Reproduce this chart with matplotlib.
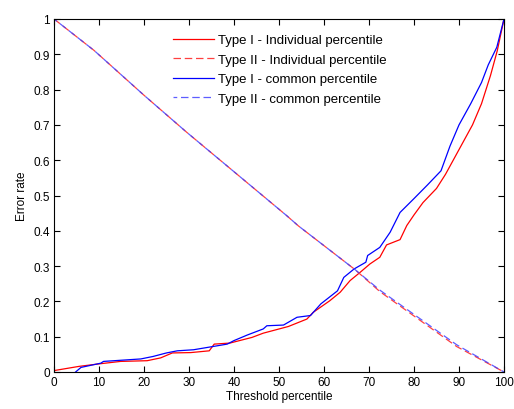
import matplotlib
matplotlib.use("Agg")
import matplotlib.pyplot as plt

plt.rcParams['font.family'] = ['Liberation Sans', 'DejaVu Sans']

# Type I - Individual percentile (red, solid)
t1_ind_x = [0, 5.6, 10, 14.8, 20.7, 23.7, 26.3, 30.4, 34.5, 35.6, 39.1, 44, 46.5, 52.1, 56.2,
            57.6, 61.3, 63.6, 65.8, 68, 70.2, 72.4, 73.9, 76.9, 78.4, 80, 82, 85,
            87, 90, 93, 95, 97, 98.5, 100]
t1_ind_y = [0.004, 0.016, 0.023, 0.030, 0.032, 0.040, 0.054, 0.055, 0.060, 0.079, 0.082, 0.098,
            0.110, 0.129, 0.150, 0.169, 0.202, 0.226, 0.259, 0.282, 0.306, 0.325, 0.360,
            0.375, 0.415, 0.445, 0.480, 0.520, 0.560, 0.630, 0.700, 0.760, 0.840, 0.910, 1.0]

# Type I - common percentile (blue, solid)
t1_com_x = [4.8, 6, 10.4, 11, 19.3, 22, 25, 27.4, 31, 38.5, 40, 43, 46.5, 47.3, 51, 54,
            57, 59.3, 63, 64.4, 66.7, 69.3, 69.7, 72.4, 74.7, 76.9, 79.9, 83, 86,
            88, 90, 92.6, 95, 96.5, 98.4, 100]
t1_com_y = [0.0, 0.013, 0.025, 0.030, 0.037, 0.044, 0.054, 0.060, 0.063, 0.079, 0.089,
            0.105, 0.122, 0.131, 0.133, 0.155, 0.160, 0.193, 0.230, 0.268, 0.292, 0.311,
            0.330, 0.353, 0.396, 0.452, 0.490, 0.530, 0.570, 0.640, 0.700, 0.760, 0.820,
            0.870, 0.920, 1.0]

# Type II - Individual percentile (red, dashed)
t2_ind_x = [0, 8.9, 20, 29.5, 40.6, 51.7, 54.3, 66.9, 72.4, 89.5, 100]
t2_ind_y = [1.0, 0.911, 0.784, 0.679, 0.561, 0.443, 0.414, 0.290, 0.228, 0.072, 0.0]

# Type II - common percentile (blue, dashed)
t2_com_x = [0, 8.9, 20, 29.5, 40.6, 51.7, 54.3, 66.9, 72.4, 89.5, 100]
t2_com_y = [1.0, 0.911, 0.784, 0.679, 0.561, 0.443, 0.414, 0.290, 0.232, 0.077, 0.0]

x_ticks = [0, 10, 20, 30, 40, 50, 60, 70, 80, 90, 100]
y_ticks = [0, 0.1, 0.2, 0.3, 0.4, 0.5, 0.6, 0.7, 0.8, 0.9, 1]
y_tick_labels = ['0', '0.1', '0.2', '0.3', '0.4', '0.5', '0.6', '0.7', '0.8', '0.9', '1']

fig = plt.figure(figsize=(5.14, 4.10), dpi=100)
ax = fig.add_axes([54/514, 1-373/410, 450/514, 353/410])

lw = 0.9
ax.plot(t1_ind_x, t1_ind_y, color='#FF0000', lw=lw, label='Type I - Individual percentile')
ax.plot(t2_ind_x, t2_ind_y, color='#FF4040', lw=lw, ls=(0, (6, 3)), label='Type II - Individual percentile')
ax.plot(t1_com_x, t1_com_y, color='#0000FF', lw=lw, label='Type I - common percentile')
ax.plot(t2_com_x, t2_com_y, color='#4040FF', lw=lw, ls=(3, (6, 3)), label='Type II - common percentile', alpha=0.85)

ax.set_xlim(0, 100)
ax.set_ylim(0, 1)
ax.set_xticks(x_ticks)
ax.set_xticklabels([str(v) for v in x_ticks])
ax.set_yticks(y_ticks)
ax.set_yticklabels(y_tick_labels)
ax.tick_params(direction='in', top=True, right=True, labelsize=8.5, length=4, width=0.8, pad=3)
for s in ax.spines.values():
    s.set_linewidth(0.8)

ax.set_xlabel('Threshold percentile', fontsize=8.5, labelpad=1)
ax.set_ylabel('Error rate', fontsize=8.5, labelpad=4)

leg = ax.legend(loc='upper left', bbox_to_anchor=((173-54)/450, (373-35)/353), frameon=False,
                fontsize=9.5, handlelength=3.1, handletextpad=0.3, labelspacing=0.55,
                borderaxespad=0, borderpad=0)

fig.savefig('out.png', dpi=100)
